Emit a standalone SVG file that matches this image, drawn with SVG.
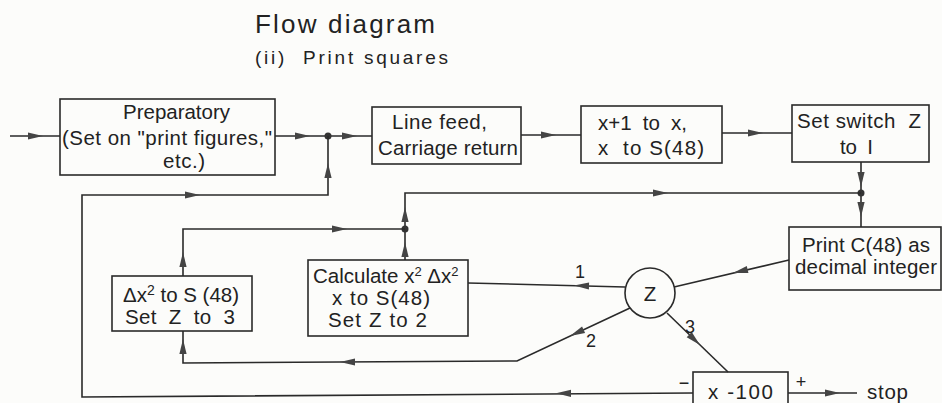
<svg xmlns="http://www.w3.org/2000/svg" xmlns:xlink="http://www.w3.org/1999/xlink" width="942" height="403" viewBox="0 0 942 403">
<defs>
<style>
.bg{fill:#fcfcfa}
.box{fill:none;stroke:#2a2a2a;stroke-width:1.6}
.ln{fill:none;stroke:#2a2a2a;stroke-width:1.6}
.t{font-family:"Liberation Sans",Arial,sans-serif;font-size:20.5px;fill:#222}
.c{text-anchor:middle}
.title{font-family:"Liberation Sans",Arial,sans-serif;font-size:26px;fill:#222}
.sub{font-family:"Liberation Sans",Arial,sans-serif;font-size:19px;fill:#222}
.lbl{font-family:"Liberation Sans",Arial,sans-serif;font-size:18px;fill:#222;text-anchor:middle}
.dot{fill:#333}
.ah{fill:#444}
</style>
<path id="ah" class="ah" d="M0,0 L-15,-3.6 L-15,3.6 Z"/>
</defs>
<rect class="bg" x="0" y="0" width="942" height="403"/>

<g id="title">
<text class="title" x="255" y="33" textLength="180">Flow diagram</text>
<text class="sub" x="255" y="64" textLength="193" xml:space="preserve">(ii)  Print squares</text>
</g>

<g id="connectors">
<path class="ln" d="M10,136 L60,136"/>
<use xlink:href="#ah" transform="translate(43,136)"/>
<path class="ln" d="M275,136 L372,136"/>
<use xlink:href="#ah" transform="translate(310,136)"/>
<use xlink:href="#ah" transform="translate(357,136)"/>
<circle class="dot" cx="328" cy="136" r="3.5"/>
<path class="ln" d="M693,393 L82,397 L82,195 L328,195 L328,136"/>
<use xlink:href="#ah" transform="translate(200,195)"/>
<use xlink:href="#ah" transform="translate(328,163) rotate(-90)"/>
<use xlink:href="#ah" transform="translate(556,393.3) rotate(180)"/>

<path class="ln" d="M521,135 L581,135"/>
<use xlink:href="#ah" transform="translate(556,135)"/>
<path class="ln" d="M722,133 L792,133"/>
<use xlink:href="#ah" transform="translate(763,133)"/>

<path class="ln" d="M861,162 L861,227"/>
<use xlink:href="#ah" transform="translate(861,187) rotate(90)"/>
<use xlink:href="#ah" transform="translate(861,217) rotate(90)"/>
<circle class="dot" cx="861" cy="193" r="3.5"/>
<path class="ln" d="M405,260 L405,193 L861,193"/>
<use xlink:href="#ah" transform="translate(668,193)"/>
<use xlink:href="#ah" transform="translate(405,207) rotate(-90)"/>
<use xlink:href="#ah" transform="translate(405,242) rotate(-90)"/>
<circle class="dot" cx="405" cy="229" r="3.5"/>
<path class="ln" d="M183,276 L183,229 L405,229"/>
<use xlink:href="#ah" transform="translate(347,229)"/>
<use xlink:href="#ah" transform="translate(183,252) rotate(-90)"/>

<path class="ln" d="M789,260 L674,287"/>
<use xlink:href="#ah" transform="translate(733,273) rotate(166.8)"/>
<path class="ln" d="M625,287 L468,283"/>
<use xlink:href="#ah" transform="translate(574,285.6) rotate(181.5)"/>
<path class="ln" d="M630,308 L517,361 L183,363 L183,331"/>
<use xlink:href="#ah" transform="translate(570,336.1) rotate(154.9)"/>
<use xlink:href="#ah" transform="translate(340,362) rotate(180)"/>
<use xlink:href="#ah" transform="translate(183,339) rotate(-90)"/>
<path class="ln" d="M667,313 L728,372"/>
<use xlink:href="#ah" transform="translate(700,345) rotate(44)"/>
<path class="ln" d="M788,393 L857,393"/>
<use xlink:href="#ah" transform="translate(840,393)"/>
<text class="lbl" x="580" y="278">1</text>
<text class="lbl" x="591" y="347">2</text>
<text class="lbl" x="690" y="333">3</text>
<text class="lbl" x="684" y="389">−</text>
<text class="lbl" font-size="15" x="801" y="388">+</text>
</g>

<g id="n-prep">
<rect class="box" x="60" y="99" width="215" height="76"/>
<text class="t" x="123" y="119" textLength="107">Preparatory</text>
<text class="t" x="62" y="145" textLength="210">(Set on "print figures,"</text>
<text class="t" x="163" y="168" textLength="42">etc.)</text>
</g>

<g id="n-linefeed">
<rect class="box" x="372" y="107" width="149" height="57"/>
<text class="t" x="392" y="129" textLength="95">Line feed,</text>
<text class="t" x="378" y="155" textLength="140">Carriage return</text>
</g>

<g id="n-xplus1">
<rect class="box" x="581" y="106" width="141" height="57"/>
<text class="t" x="598" y="130" textLength="89" xml:space="preserve">x+1  to  x,</text>
<text class="t" x="598" y="155" textLength="106" xml:space="preserve">x  to S(48)</text>
</g>

<g id="n-setz1">
<rect class="box" x="792" y="105" width="137" height="57"/>
<text class="t" x="797" y="128" textLength="124" xml:space="preserve">Set switch  Z</text>
<text class="t" x="840" y="154" textLength="33" xml:space="preserve">to  I</text>
</g>

<g id="n-print">
<rect class="box" x="789" y="227" width="152" height="63"/>
<text class="t" x="802" y="252" textLength="128">Print C(48) as</text>
<text class="t" x="795" y="274" textLength="142">decimal integer</text>
</g>

<g id="n-z">
<circle class="box" cx="650" cy="293" r="25"/>
<text class="t c" font-size="22" x="650" y="301">Z</text>
</g>

<g id="n-calc">
<rect class="box" x="308" y="260" width="160" height="76"/>
<text class="t" font-size="19.5" x="313" y="283">Calculate x<tspan font-size="13" dy="-7">2</tspan><tspan dy="7"> Δx</tspan><tspan font-size="13" dy="-7">2</tspan></text>
<text class="t" x="332" y="305" textLength="98">x to S(48)</text>
<text class="t" x="328" y="327" textLength="99">Set Z to 2</text>
</g>

<g id="n-dx2">
<rect class="box" x="112" y="276" width="140" height="55"/>
<text class="t" x="123" y="302">Δx<tspan font-size="14" dy="-7">2</tspan><tspan dy="7"> to S (48)</tspan></text>
<text class="t" x="125" y="324" textLength="110" xml:space="preserve">Set  Z  to  3</text>
</g>

<g id="n-test">
<rect class="box" x="693" y="372" width="95" height="40"/>
<text class="t" x="708" y="399" textLength="65">x -100</text>
</g>

<g id="stop">
<text class="t" x="867" y="399" textLength="41">stop</text>
</g>
</svg>
